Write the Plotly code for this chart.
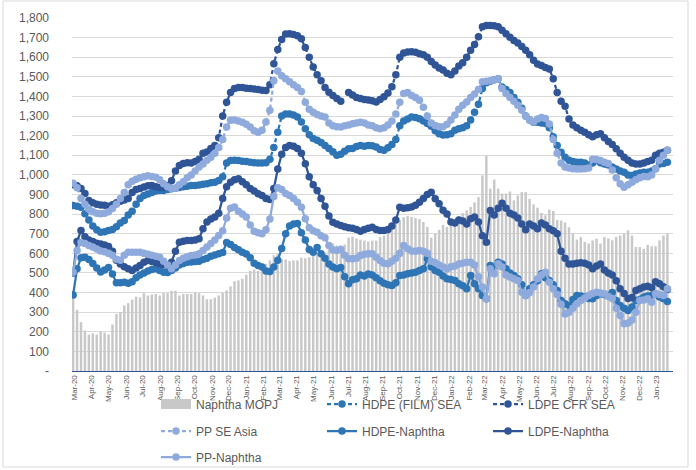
import pandas as pd
import plotly.graph_objects as go

# ---------------- data (weekly) ----------------
start_week = "2020-02-28"

naphtha = [390, 312, 249, 206, 186, 192, 186, 201, 196, 186,
           237, 291, 300, 334, 346, 364, 379, 376, 397, 385,
           390, 393, 385, 397, 397, 409, 409, 385, 393, 393,
           393, 400, 397, 385, 366, 366, 374, 385, 399, 411,
           431, 458, 462, 470, 491, 510, 517, 510, 527, 547,
           564, 590, 598, 568, 569, 561, 564, 564, 578, 575,
           580, 590, 595, 598, 605, 620, 650, 640, 640, 645,
           680, 685, 675, 670, 665, 660, 665, 665, 682, 690,
           720, 740, 760, 770, 785, 790, 785, 780, 775, 760,
           735, 680, 700, 720, 745, 735, 745, 765, 790, 805,
           820, 836, 860, 887, 997, 1099, 930, 976, 930, 905,
           905, 915, 870, 895, 912, 912, 878, 850, 833, 806,
           794, 823, 816, 770, 767, 757, 733, 703, 670, 683,
           658, 650, 666, 675, 650, 683, 676, 666, 683, 691,
           700, 717, 691, 632, 632, 623, 643, 636, 636, 666,
           691, 700]

hdpe_sea = [844, 840, 835, 802, 770, 740, 720, 708, 710, 716,
            722, 735, 755, 768, 795, 815, 850, 880, 895, 902,
            910, 918, 921, 921, 925, 929, 932, 936, 940, 942,
            946, 946, 948, 952, 955, 960, 963, 972, 990, 1060,
            1073, 1075, 1073, 1070, 1068, 1065, 1062, 1060, 1060, 1062,
            1080, 1140, 1218, 1300, 1310, 1310, 1305, 1295, 1270, 1235,
            1205, 1185, 1176, 1165, 1150, 1135, 1118, 1100, 1105, 1120,
            1133, 1135, 1145, 1150, 1146, 1150, 1148, 1142, 1130, 1125,
            1138, 1155, 1180, 1250, 1275, 1285, 1295, 1292, 1286, 1275,
            1262, 1248, 1225, 1210, 1203, 1205, 1210, 1228, 1235, 1240,
            1250, 1280, 1320, 1360, 1440, 1470, 1478, 1485, 1490, 1448,
            1435, 1420, 1395, 1370, 1340, 1300, 1280, 1269, 1269, 1265,
            1262, 1240, 1195, 1150, 1116, 1090, 1075, 1068, 1065, 1065,
            1060, 1050, 1060, 1074, 1062, 1056, 1050, 1040, 1030, 1020,
            1014, 1000, 997, 1005, 1010, 1014, 1014, 1020, 1031, 1056,
            1058, 1065]

ldpe_sea = [950, 945, 930, 905, 870, 858, 850, 847, 845, 840,
            848, 858, 865, 872, 880, 910, 925, 930, 938, 945,
            946, 940, 936, 936, 945, 970, 1020, 1048, 1058, 1062,
            1060, 1068, 1080, 1110, 1117, 1135, 1150, 1190, 1300, 1370,
            1420, 1440, 1446, 1446, 1442, 1440, 1438, 1436, 1432, 1430,
            1460, 1567, 1640, 1690, 1718, 1720, 1716, 1710, 1694, 1650,
            1600, 1550, 1510, 1480, 1445, 1422, 1405, 1390, 1375, None,
            1420, 1408, 1395, 1390, 1385, 1382, 1378, 1372, 1385, 1398,
            1418, 1450, 1510, 1600, 1622, 1626, 1628, 1625, 1618, 1612,
            1600, 1578, 1560, 1545, 1535, 1518, 1510, 1530, 1555, 1572,
            1600, 1635, 1665, 1705, 1755, 1762, 1762, 1760, 1755, 1738,
            1720, 1702, 1685, 1672, 1655, 1635, 1612, 1585, 1565, 1558,
            1548, 1540, 1490, 1420, 1375, 1350, 1285, 1255, 1240, 1228,
            1218, 1205, 1195, 1205, 1210, 1190, 1170, 1155, 1133, 1110,
            1090, 1075, 1060, 1055, 1056, 1060, 1068, 1075, 1100, 1110,
            1116, 1125]

pp_sea = [958, 935, 880, 850, 825, 812, 805, 802, 805, 812,
          828, 850, 880, 910, 950, 968, 978, 985, 990, 995,
          992, 988, 975, 955, 940, 930, 932, 950, 965, 985,
          1000, 1020, 1040, 1056, 1075, 1090, 1110, 1140, 1180, 1244,
          1278, 1280, 1275, 1268, 1258, 1244, 1225, 1218, 1227, 1270,
          1330, 1480, 1530, 1505, 1490, 1475, 1460, 1445, 1425, 1370,
          1335, 1320, 1308, 1300, 1295, 1265, 1250, 1245, 1244, 1250,
          1255, 1261, 1265, 1268, 1265, 1255, 1250, 1240, 1235, 1240,
          1255, 1275, 1310, 1370, 1415, 1420, 1405, 1395, 1380, 1345,
          1300, 1265, 1252, 1245, 1245, 1258, 1280, 1305, 1335, 1355,
          1372, 1395, 1412, 1435, 1475, 1478, 1480, 1485, 1490, 1440,
          1415, 1395, 1375, 1355, 1330, 1300, 1280, 1270, 1285, 1292,
          1288, 1260, 1180, 1110, 1060, 1040, 1035, 1031, 1030, 1030,
          1031, 1035, 1080, 1078, 1073, 1065, 1058, 1025, 985, 955,
          937, 950, 962, 975, 985, 992, 990, 1000, 1031, 1075,
          1100, 1125]

hdpe_naphtha = [388, 521, 577, 580, 568, 548, 525, 505, 515, 528,
                495, 450, 450, 452, 448, 455, 475, 490, 500, 510,
                518, 521, 512, 504, 502, 512, 525, 540, 548, 555,
                556, 558, 560, 568, 575, 585, 592, 598, 604, 655,
                645, 630, 618, 605, 596, 578, 550, 538, 530, 510,
                508, 530, 565, 625, 700, 740, 750, 752, 705, 668,
                620, 606, 630, 598, 575, 545, 530, 522, 528, 480,
                445, 465, 470, 490, 485, 495, 490, 475, 460, 448,
                440, 436, 450, 487, 490, 496, 500, 504, 512, 521,
                572, 530, 513, 504, 485, 470, 466, 462, 445, 435,
                420, 487, 445, 420, 385, 368, 538, 530, 555, 545,
                521, 500, 487, 470, 440, 385, 420, 440, 460, 496,
                475, 462, 440, 411, 360, 343, 334, 365, 385, 382,
                377, 370, 368, 385, 394, 390, 385, 400, 360, 334,
                320, 309, 326, 360, 365, 377, 382, 385, 394, 377,
                368, 355]

ldpe_naphtha = [500, 660, 716, 685, 668, 660, 652, 648, 642, 635,
                610, 565, 545, 532, 522, 513, 525, 538, 555, 564,
                558, 552, 547, 542, 538, 555, 610, 657, 662, 665,
                665, 668, 674, 725, 760, 775, 785, 805, 880, 940,
                962, 975, 980, 965, 950, 930, 918, 904, 895, 880,
                875, 930, 1030, 1105, 1140, 1150, 1146, 1135, 1110, 1057,
                990, 950, 921, 880, 840, 790, 759, 750, 742, 735,
                730, 728, 722, 712, 722, 728, 733, 722, 717, 717,
                722, 740, 770, 835, 830, 832, 836, 845, 861, 880,
                900, 912, 878, 853, 820, 800, 760, 755, 770, 765,
                750, 776, 785, 760, 690, 657, 819, 795, 830, 855,
                830, 805, 795, 780, 750, 720, 750, 740, 725, 755,
                745, 725, 715, 700, 610, 575, 545, 546, 550, 552,
                550, 540, 522, 535, 546, 515, 500, 490, 460, 420,
                395, 370, 375, 410, 420, 428, 432, 425, 455, 445,
                430, 415]

pp_naphtha = [504, 615, 655, 650, 640, 632, 622, 612, 608, 600,
              590, 570, 565, 590, 606, 606, 606, 605, 600, 595,
              590, 585, 580, 560, 540, 521, 540, 564, 575, 583,
              589, 592, 598, 615, 632, 650, 668, 691, 715, 780,
              830, 836, 815, 800, 785, 745, 712, 705, 700, 720,
              775, 890, 935, 925, 905, 895, 880, 860, 835, 776,
              730, 715, 708, 690, 680, 640, 618, 615, 620, 590,
              572, 572, 575, 589, 595, 598, 598, 580, 564, 550,
              547, 560, 575, 600, 640, 623, 612, 610, 615, 610,
              600, 560, 552, 540, 530, 521, 532, 535, 545, 550,
              555, 555, 540, 480, 428, 368, 521, 496, 547, 530,
              490, 479, 470, 462, 402, 385, 400, 428, 470, 490,
              504, 453, 420, 390, 340, 291, 300, 320, 343, 360,
              372, 385, 395, 402, 398, 394, 380, 370, 320, 283,
              241, 245, 260, 300, 360, 362, 368, 351, 394, 390,
              385, 420]

y_tick_values = [0, 100, 200, 300, 400, 500, 600, 700, 800, 900,
                 1000, 1100, 1200, 1300, 1400, 1500, 1600, 1700, 1800]
y_tick_labels = ["-", "100", "200", "300", "400", "500", "600", "700", "800", "900",
                 "1,000", "1,100", "1,200", "1,300", "1,400", "1,500", "1,600", "1,700", "1,800"]

weeks = pd.date_range(start=start_week, periods=len(naphtha), freq="7D")

# ---------------- styling ----------------
C_HDPE = "#2E75B6"
C_LDPE = "#2F5597"
C_PP = "#8FAADC"
C_NAP = "#C8C8C8"
TXT = "#595959"
FONT = "Liberation Sans, Arial, sans-serif"
DAY_MS = 86400000

fig = go.Figure()

# Naphtha bars (legend entry is drawn by the legend-only swatch below)
fig.add_trace(go.Bar(x=weeks, y=naphtha, name="Naphtha MOPJ",
                     marker=dict(color=C_NAP, line=dict(width=0)),
                     width=4.4 * DAY_MS, showlegend=False))
# wide grey swatch for the legend, like the original's rectangle key
fig.add_trace(go.Scatter(x=[None], y=[None], name="Naphtha MOPJ", mode="lines",
                         line=dict(color=C_NAP, width=10), legend="legend",
                         hoverinfo="skip"))


def line_trace(y, name, color, dash, legend):
    return go.Scatter(x=weeks, y=y, name=name, mode="lines+markers",
                      line=dict(color=color, width=2.25, dash=dash),
                      marker=dict(color=color, size=7.5),
                      connectgaps=False, legend=legend)


fig.add_trace(line_trace(hdpe_sea, "HDPE (FILM) SEA", C_HDPE, "4px,3px", "legend"))
fig.add_trace(line_trace(ldpe_sea, "LDPE CFR SEA", C_LDPE, "4px,3px", "legend"))
fig.add_trace(line_trace(pp_sea, "PP SE Asia", C_PP, "4px,3px", "legend2"))
fig.add_trace(line_trace(hdpe_naphtha, "HDPE-Naphtha", C_HDPE, "solid", "legend2"))
fig.add_trace(line_trace(ldpe_naphtha, "LDPE-Naphtha", C_LDPE, "solid", "legend2"))
fig.add_trace(line_trace(pp_naphtha, "PP-Naphtha", C_PP, "solid", "legend3"))

W, H = 696, 470
ML, MR, MT, MB = 72, 23, 18, 99
PW = W - ML - MR
PH = H - MT - MB


def px_x(p):
    return (p - ML) / PW


def px_y(p):
    return (H - MB - p) / PH


legend_common = dict(orientation="h", xanchor="left", yanchor="middle",
                     entrywidth=121, entrywidthmode="pixels",
                     font=dict(family=FONT, size=12, color=TXT),
                     bgcolor="rgba(0,0,0,0)", traceorder="normal",
                     itemclick=False, itemdoubleclick=False)

fig.update_layout(
    width=W, height=H,
    margin=dict(l=ML, r=MR, t=MT, b=MB, autoexpand=False),
    paper_bgcolor="white", plot_bgcolor="white",
    font=dict(family=FONT, color=TXT),
    barmode="overlay",
    showlegend=True,
    legend=dict(x=px_x(156), y=px_y(404), **legend_common),
    legend2=dict(x=px_x(156), y=px_y(431), **legend_common),
    legend3=dict(x=px_x(156), y=px_y(457), **legend_common),
    xaxis=dict(type="date", range=["2020-02-26", "2023-01-30"],
               tick0="2020-03-01", dtick="M1", tickformat="%b-%y",
               tickangle=-90, tickfont=dict(family=FONT, size=8, color=TXT),
               showgrid=False, zeroline=False, showline=True,
               linecolor=C_LDPE, linewidth=1, ticks="", automargin=False),
    yaxis=dict(range=[0, 1800], tickvals=y_tick_values, ticktext=y_tick_labels,
               tickfont=dict(family=FONT, size=12, color=TXT),
               showgrid=True, gridcolor="#D9D9D9", gridwidth=1,
               zeroline=False, showline=False, ticks="", ticklabelstandoff=22,
               automargin=False),
    shapes=[dict(type="rect", xref="paper", yref="paper",
                 x0=px_x(3), x1=px_x(688), y0=px_y(467), y1=px_y(1),
                 line=dict(color="#D9D9D9", width=1), fillcolor="rgba(0,0,0,0)",
                 layer="below")],
)

fig.write_html("out.html",
               config={"displayModeBar": False},
               post_script="document.body.style.margin='0px';"
                           "document.body.style.overflow='hidden';")
